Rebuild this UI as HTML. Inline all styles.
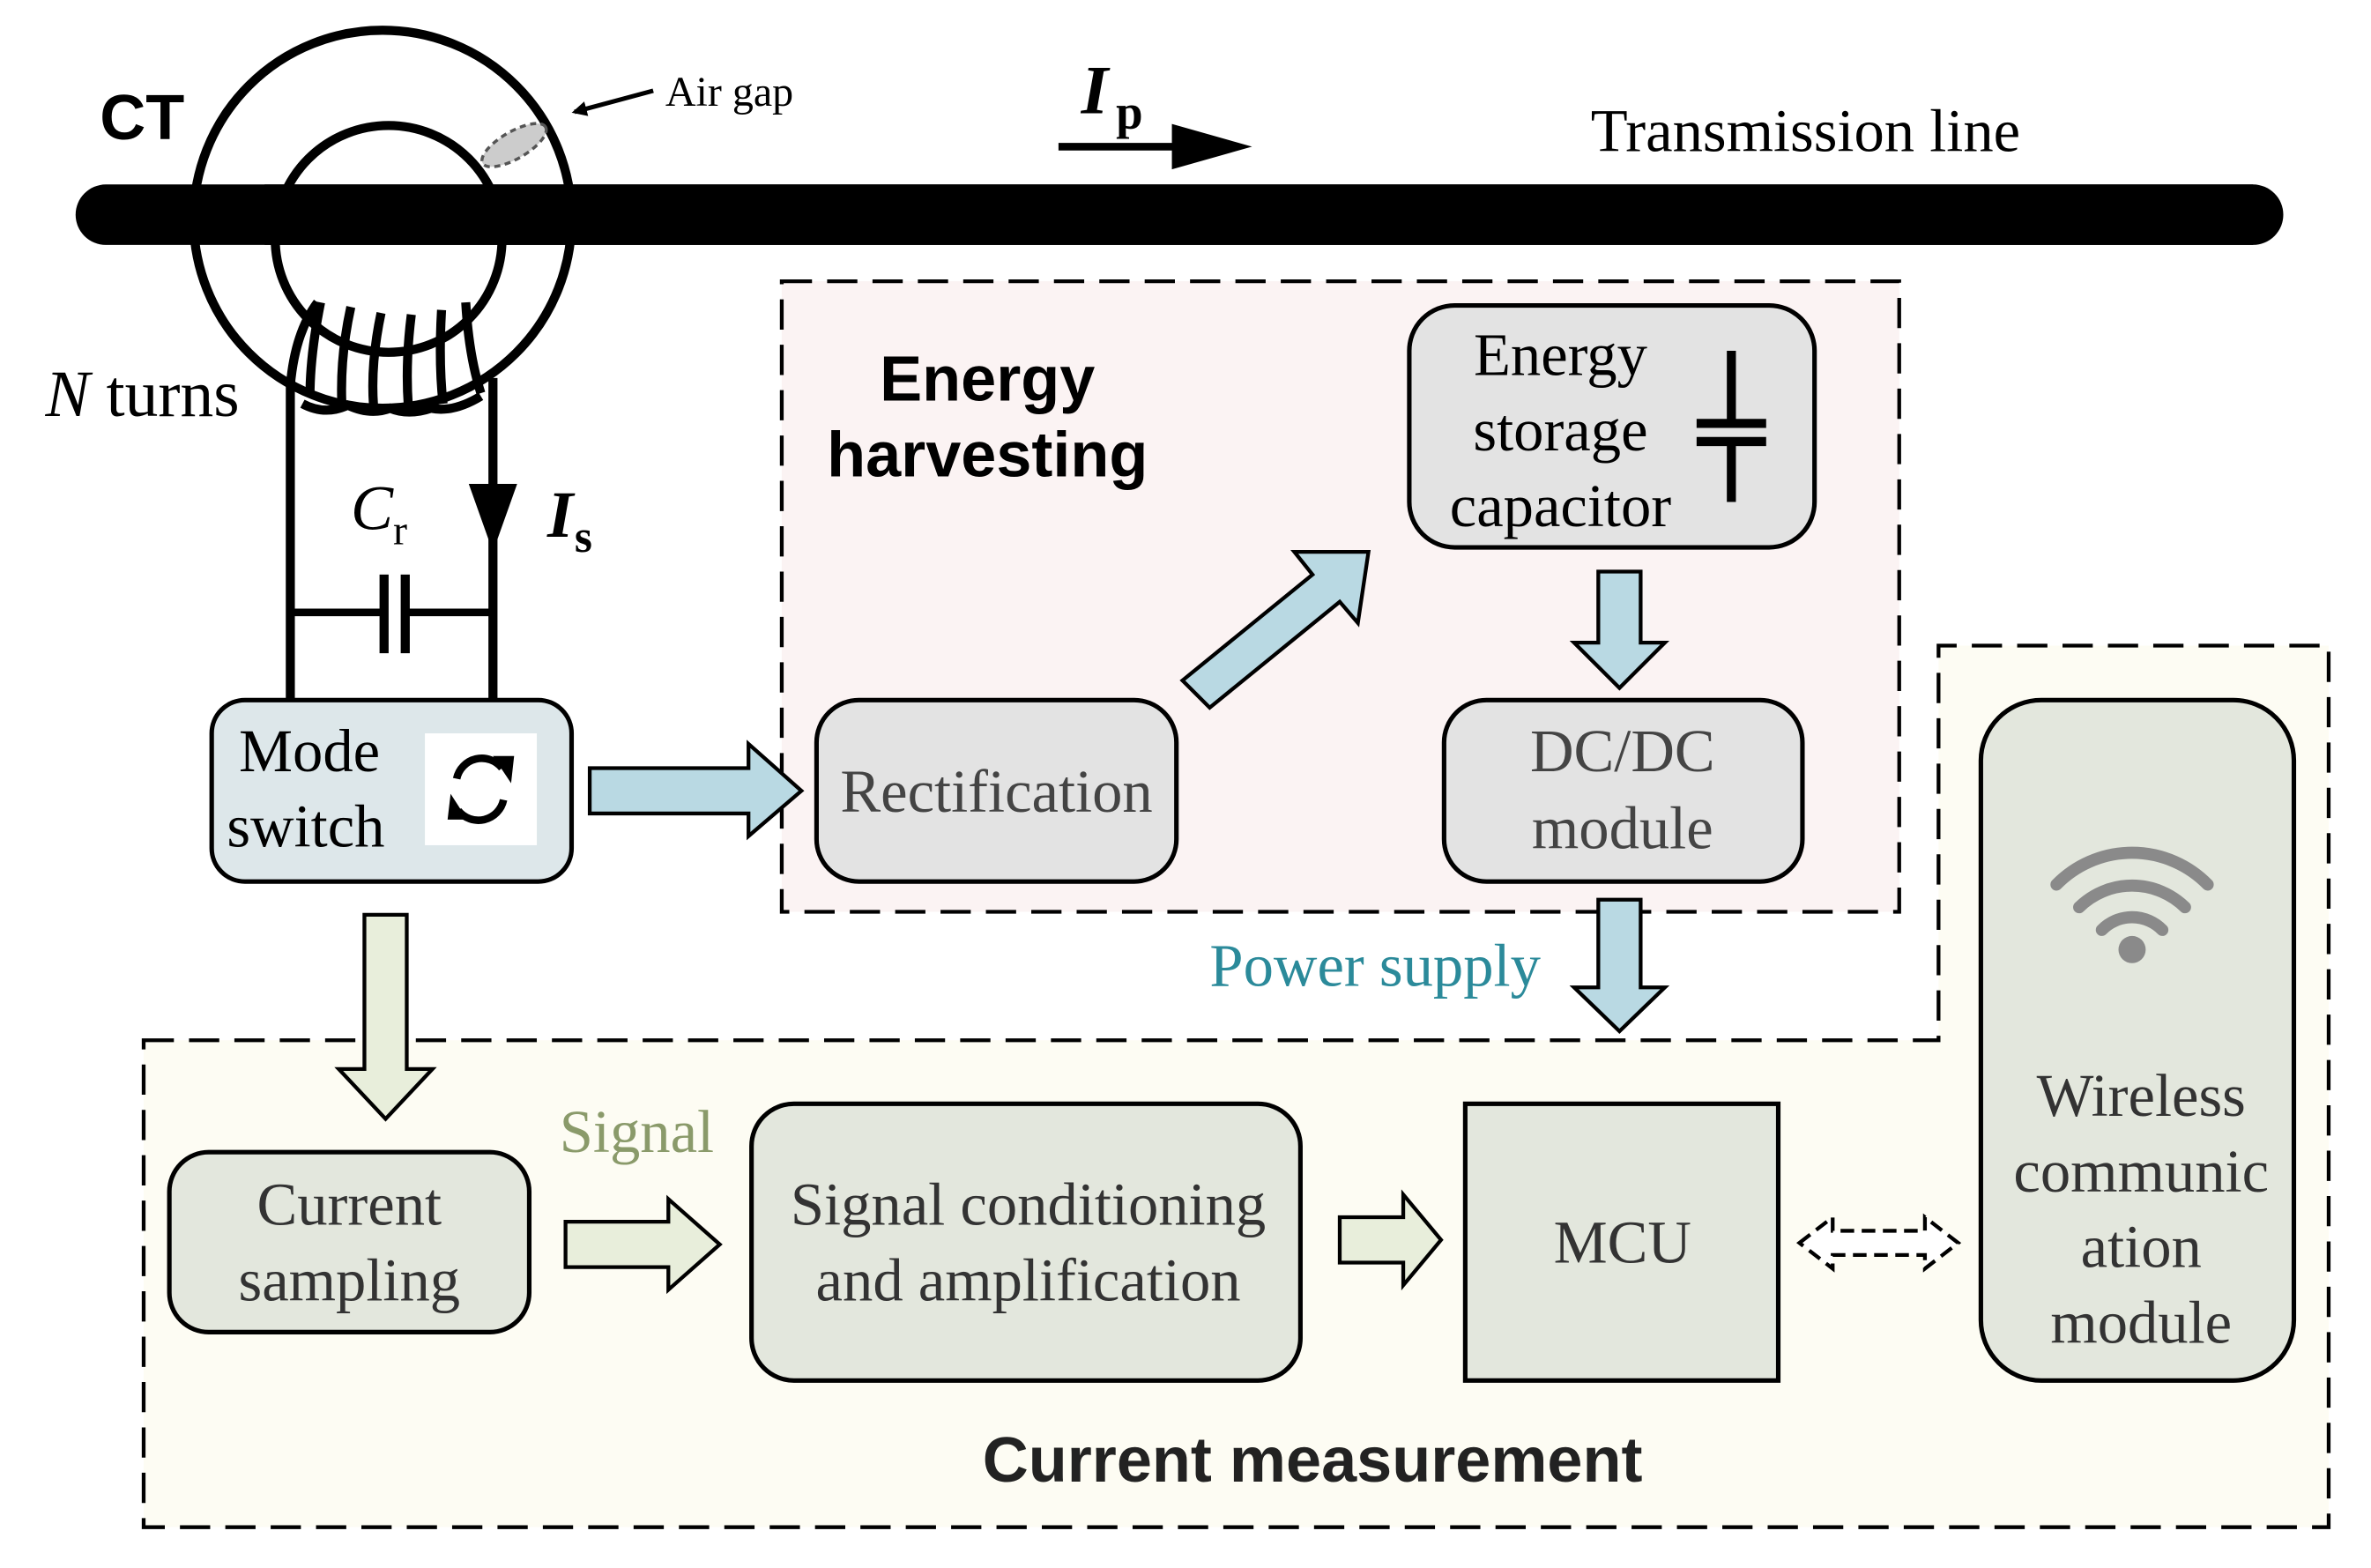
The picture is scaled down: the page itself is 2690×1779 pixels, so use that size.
<!DOCTYPE html>
<html><head><meta charset="utf-8"><style>
html,body{margin:0;padding:0;background:#fff;}
svg{display:block;}
text{font-family:"Liberation Serif",serif;}
.b{font-family:"Liberation Sans",sans-serif;font-weight:bold;}
</style></head><body>
<svg width="2690" height="1779" viewBox="0 0 1568 1037" preserveAspectRatio="none" xmlns="http://www.w3.org/2000/svg">
<defs>
<marker id="ah" markerWidth="10" markerHeight="10" refX="8" refY="5" orient="auto" markerUnits="userSpaceOnUse"><path d="M0,0 L10,5 L0,10z" fill="#000"/></marker>
</defs>
<!-- dashed boxes -->
<path d="M95,688 L1282,688 L1282,427 L1540,427 L1540,1010 L95,1010 Z" fill="#fdfcf3" stroke="#000" stroke-width="2.5" stroke-dasharray="20,10"/>
<rect x="517" y="186" width="739" height="417" fill="#fbf3f3" stroke="#000" stroke-width="2.5" stroke-dasharray="20,10"/>

<!-- transmission line -->
<line x1="70" y1="142" x2="1490" y2="142" stroke="#000" stroke-width="40" stroke-linecap="round"/>
<!-- CT ring -->
<circle cx="253" cy="145" r="125" fill="none" stroke="#000" stroke-width="6"/>
<circle cx="257" cy="158" r="75" fill="none" stroke="#000" stroke-width="6"/>
<line x1="175" y1="142" x2="1490" y2="142" stroke="#000" stroke-width="40"/>
<ellipse cx="340" cy="96" rx="24" ry="9" transform="rotate(-30 340 96)" fill="#ccc" stroke="#555" stroke-width="2" stroke-dasharray="4,3"/>
<line x1="432" y1="60" x2="380" y2="74" stroke="#000" stroke-width="3" marker-end="url(#ah)"/>
<text x="440" y="70" font-size="28">Air gap</text>
<text x="66" y="92" font-size="42" class="b">CT</text>

<!-- Ip -->
<line x1="700" y1="97" x2="790" y2="97" stroke="#000" stroke-width="5"/>
<path d="M775,82 L828,97 L775,112z" fill="#000"/>
<text x="715" y="75" font-size="46" font-style="italic" font-weight="bold">I</text>
<text x="738" y="85" font-size="32" font-weight="bold">p</text>
<text x="1052" y="100" font-size="40">Transmission line</text>

<!-- coil -->
<g fill="none" stroke="#000" stroke-width="6">
<path d="M192,470 L192,255 Q195,220 210,200"/>
<path d="M326,470 L326,250"/>
<path d="M212,200 Q205,235 205,262"/><path d="M232,203 Q225,235 226,265"/>
<path d="M252,207 Q245,240 247,268"/><path d="M272,208 Q268,240 270,268"/>
<path d="M292,205 Q290,240 293,267"/><path d="M308,200 Q310,235 318,260"/>
<path d="M200,267 Q215,275 230,268 Q245,275 258,270 Q270,275 285,270 Q300,273 318,262"/>
</g>
<text x="30" y="275" font-size="44"><tspan font-style="italic">N</tspan> turns</text>
<!-- capacitor -->
<line x1="192" y1="405" x2="254" y2="405" stroke="#000" stroke-width="5"/>
<line x1="268" y1="405" x2="326" y2="405" stroke="#000" stroke-width="5"/>
<line x1="254" y1="380" x2="254" y2="432" stroke="#000" stroke-width="6"/>
<line x1="268" y1="380" x2="268" y2="432" stroke="#000" stroke-width="6"/>
<path d="M310,320 L342,320 L326,365z" fill="#000"/>
<text x="232" y="350" font-size="42" font-style="italic">C</text><text x="260" y="360" font-size="28">r</text>
<text x="362" y="355" font-size="44" font-style="italic" font-weight="bold">I</text><text x="380" y="365" font-size="30" font-weight="bold">s</text>

<!-- Mode switch -->
<rect x="140" y="463" width="238" height="120" rx="22" fill="#dde7ea" stroke="#000" stroke-width="3"/>
<text x="158" y="510" font-size="40">Mode</text><text x="150" y="560" font-size="40">switch</text>
<rect x="281" y="485" width="74" height="74" fill="#fff"/>
<g fill="none" stroke="#000" stroke-width="5"><path d="M302,515 A17,17 0 0 1 332,508"/><path d="M333,529 A17,17 0 0 1 303,536"/></g>
<path d="M326,500 L340,500 L338,518z M309,542 L296,542 L298,525z" fill="#000"/>

<!-- blue arrows -->
<g fill="#b9d9e3" stroke="#000" stroke-width="2.5">
<path d="M390,508 L495,508 L495,492 L530,523 L495,553 L495,538 L390,538z"/>
<path d="M782,450 L868,380 L856,365 L905,365 L898,412 L886,398 L800,468z"/>
<path d="M1057,378 L1085,378 L1085,425 L1101,425 L1071,455 L1041,425 L1057,425z"/>
<path d="M1057,595 L1085,595 L1085,653 L1101,653 L1071,682 L1041,653 L1057,653z"/>
</g>
<!-- EH boxes -->
<rect x="932" y="202" width="268" height="160" rx="30" fill="#e3e3e3" stroke="#000" stroke-width="3"/>
<text x="1032" y="248" font-size="40" text-anchor="middle">Energy</text>
<text x="1032" y="298" font-size="40" text-anchor="middle">storage</text>
<text x="1032" y="348" font-size="40" text-anchor="middle">capacitor</text>
<g stroke="#000" stroke-width="6"><line x1="1145" y1="232" x2="1145" y2="280"/><line x1="1122" y1="280" x2="1168" y2="280"/><line x1="1122" y1="292" x2="1168" y2="292"/><line x1="1145" y1="292" x2="1145" y2="332"/></g>
<rect x="540" y="463" width="238" height="120" rx="28" fill="#e3e3e3" stroke="#000" stroke-width="3"/>
<text x="659" y="537" font-size="40" text-anchor="middle" fill="#444">Rectification</text>
<rect x="955" y="463" width="237" height="120" rx="28" fill="#e3e3e3" stroke="#000" stroke-width="3"/>
<text x="1073" y="510" font-size="40" text-anchor="middle" fill="#444">DC/DC</text>
<text x="1073" y="561" font-size="40" text-anchor="middle" fill="#444">module</text>
<text x="653" y="265" font-size="42" class="b" text-anchor="middle">Energy</text>
<text x="653" y="315" font-size="42" class="b" text-anchor="middle">harvesting</text>
<text x="800" y="652" font-size="40" fill="#2b8a9a">Power supply</text>

<!-- green arrows -->
<g fill="#e8eedb" stroke="#000" stroke-width="2.5">
<path d="M241,605 L269,605 L269,707 L286,707 L255,740 L224,707 L241,707z"/>
<path d="M374,808 L442,808 L442,793 L476,823 L442,853 L442,838 L374,838z"/>
<path d="M886,805 L928,805 L928,790 L953,820 L928,850 L928,835 L886,835z"/>
</g>
<path d="M1190,822 L1212,805 L1212,814 L1273,814 L1273,805 L1295,822 L1273,839 L1273,830 L1212,830 L1212,839z" fill="#fff" stroke="#000" stroke-width="2.5" stroke-dasharray="9,5"/>

<rect x="112" y="762" width="238" height="119" rx="26" fill="#e3e7dd" stroke="#000" stroke-width="3"/>
<text x="231" y="810" font-size="40" text-anchor="middle" fill="#333">Current</text>
<text x="231" y="860" font-size="40" text-anchor="middle" fill="#333">sampling</text>
<text x="370" y="762" font-size="40" fill="#8a9a6a">Signal</text>
<rect x="497" y="730" width="363" height="183" rx="28" fill="#e3e7dd" stroke="#000" stroke-width="3"/>
<text x="680" y="810" font-size="40" text-anchor="middle" fill="#333">Signal conditioning</text>
<text x="680" y="860" font-size="40" text-anchor="middle" fill="#333">and amplification</text>
<rect x="969" y="730" width="207" height="183" fill="#e3e7dd" stroke="#000" stroke-width="3"/>
<text x="1073" y="835" font-size="40" text-anchor="middle" fill="#333">MCU</text>
<rect x="1310" y="463" width="207" height="450" rx="40" fill="#e3e7dd" stroke="#000" stroke-width="3"/>
<g fill="none" stroke="#8a8a8a" stroke-width="8" stroke-linecap="round">
<path d="M1360,585 A70,70 0 0 1 1460,585"/><path d="M1375,600 A50,50 0 0 1 1445,600"/><path d="M1390,615 A28,28 0 0 1 1430,615"/>
</g>
<circle cx="1410" cy="628" r="9" fill="#8a8a8a"/>
<text x="1416" y="738" font-size="40" text-anchor="middle" fill="#333">Wireless</text>
<text x="1416" y="788" font-size="40" text-anchor="middle" fill="#333">communic</text>
<text x="1416" y="838" font-size="40" text-anchor="middle" fill="#333">ation</text>
<text x="1416" y="888" font-size="40" text-anchor="middle" fill="#333">module</text>
<text x="868" y="980" font-size="42" class="b" text-anchor="middle" fill="#222">Current measurement</text>
</svg>
</body></html>
